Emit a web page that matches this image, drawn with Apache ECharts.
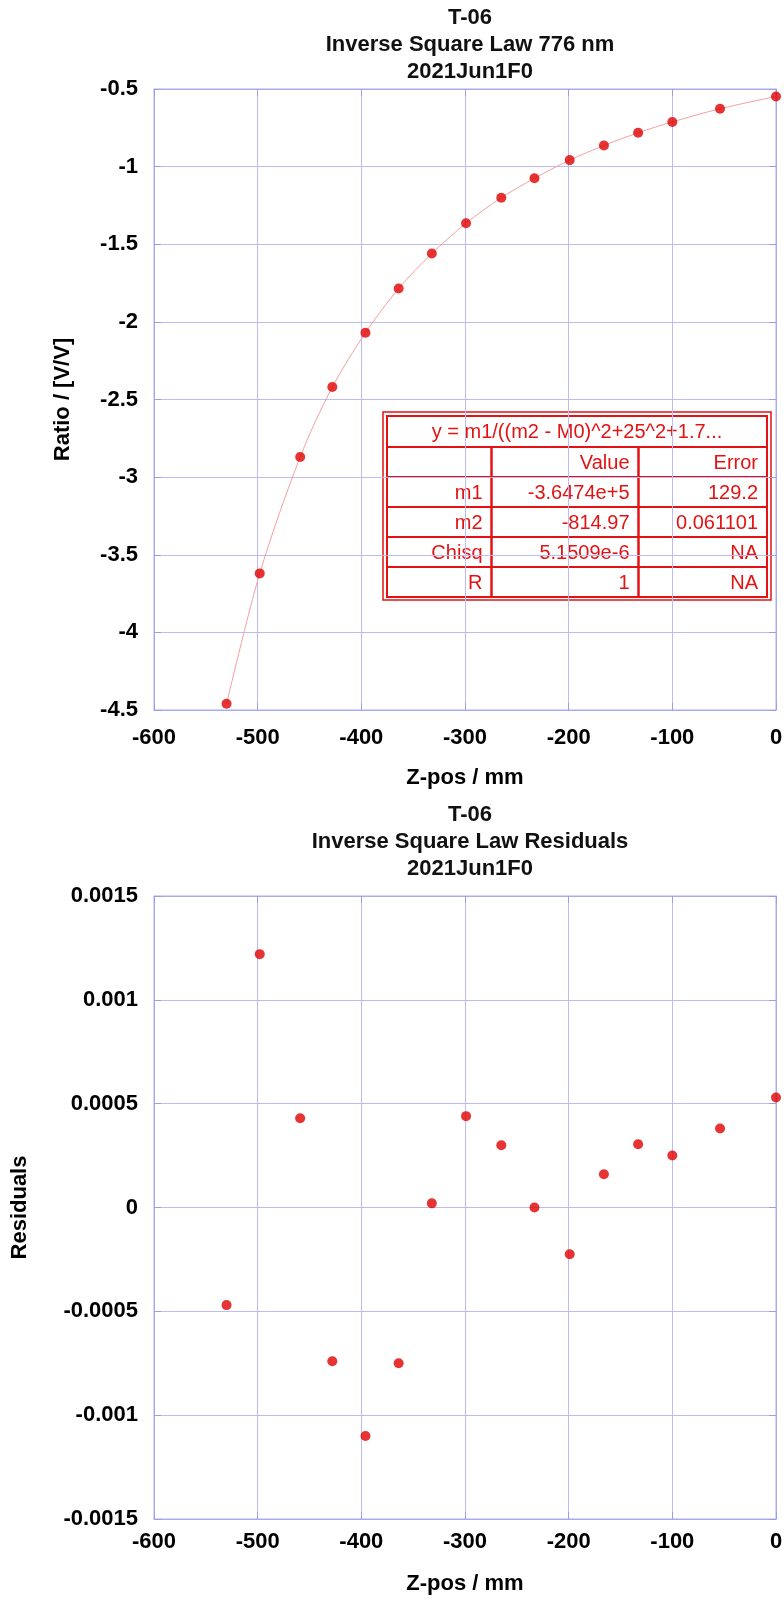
<!DOCTYPE html>
<html>
<head>
<meta charset="utf-8">
<title>T-06 Inverse Square Law</title>
<script src="https://cdn.jsdelivr.net/npm/echarts@6/dist/echarts.min.js"></script>
<style>
  html, body { margin: 0; padding: 0; background: #fff; }
  #isl-chart { width: 784px; height: 1604px; }
</style>
</head>
<body>
<div id="isl-chart"></div>
<script>
const zPos = [-530, -498, -459, -428, -396, -364, -332, -299, -265, -233, -199, -166, -133, -100, -54, 0];
const ratio = [-4.46, -3.62, -2.87, -2.42, -2.07, -1.785, -1.56, -1.365, -1.2, -1.075, -0.958, -0.864, -0.782, -0.712, -0.627, -0.548];
const residuals = [-0.00047, 0.00122, 0.00043, -0.00074, -0.0011, -0.00075, 0.00002, 0.00044, 0.0003, 0.0, -0.000225, 0.00016, 0.000305, 0.00025, 0.00038, 0.00053];

// axis ranges: min, max, interval
const zRange = [-600, 0, 100];
const ratioRange = [-4.5, -0.5, 0.5];
const residualRange = [-0.0015, 0.0015, 0.0005];

// fit results table
const fitFormula = 'y = m1/((m2 - M0)^2+25^2+1.7...';
const fitRows = [
  ['', 'Value', 'Error'],
  ['m1', '-3.6474e+5', '129.2'],
  ['m2', '-814.97', '0.061101'],
  ['Chisq', '5.1509e-6', 'NA'],
  ['R', '1', 'NA']
];

const FONT = '"Liberation Sans", Arial, sans-serif';
const GRID_COLOR = '#bcbcf2';
const BORDER_COLOR = '#aaaaee';
const TICK_COLOR = '#9c9ce8';
const RED = '#e00000';
const TABLE_RED = '#e31313';

const chartDom = document.getElementById('isl-chart');
const myChart = echarts.init(chartDom);

const labelStyle = {
  color: '#000',
  fontFamily: FONT,
  fontWeight: 'bold',
  fontSize: 22
};

function makeAxis(gridIndex, range, name, nameGap, margin) {
  return {
    type: 'value',
    gridIndex: gridIndex,
    min: range[0],
    max: range[1],
    interval: range[2],
    name: name,
    nameLocation: 'middle',
    nameGap: nameGap,
    nameTextStyle: labelStyle,
    axisLine: { show: true, onZero: false, lineStyle: { color: BORDER_COLOR, width: 1 } },
    axisTick: { show: true, inside: true, length: 7, lineStyle: { color: TICK_COLOR } },
    axisLabel: Object.assign({ margin: margin }, labelStyle),
    splitLine: { show: true, lineStyle: { color: GRID_COLOR, width: 1 } }
  };
}

// ticks only, on the opposite side of the frame
function mirrorAxis(gridIndex, range, position) {
  return {
    type: 'value',
    gridIndex: gridIndex,
    position: position,
    min: range[0],
    max: range[1],
    interval: range[2],
    axisLine: { show: true, onZero: false, lineStyle: { color: BORDER_COLOR, width: 1 } },
    axisTick: { show: true, inside: true, length: 7, lineStyle: { color: TICK_COLOR } },
    axisLabel: { show: false },
    splitLine: { show: false }
  };
}

// fit table, drawn as graphic elements
function buildTable() {
  const left = 387, right = 767, top = 416;
  const titleH = 31;
  const rowH = 30;
  const cols = [387, 491.5, 638.5, 767];
  const bottom = top + titleH + rowH * fitRows.length;
  const els = [];
  els.push({
    type: 'rect',
    shape: { x: 383, y: 412, width: right - left + 8, height: bottom - top + 7 },
    style: { fill: '#fff', stroke: TABLE_RED, lineWidth: 1.5 }
  });
  els.push({
    type: 'rect',
    shape: { x: left, y: top, width: right - left, height: bottom - top },
    style: { fill: 'none', stroke: TABLE_RED, lineWidth: 2 }
  });
  els.push({
    type: 'text',
    style: {
      x: (left + right) / 2, y: top + titleH / 2 + 1,
      text: fitFormula, align: 'center', verticalAlign: 'middle',
      fill: TABLE_RED, font: '20px ' + FONT
    }
  });
  for (let r = 0; r < fitRows.length; r++) {
    const y0 = top + titleH + rowH * r;
    els.push({
      type: 'line',
      shape: { x1: left, y1: y0, x2: right, y2: y0 },
      style: { stroke: TABLE_RED, lineWidth: 2 }
    });
    for (let c = 0; c < 3; c++) {
      els.push({
        type: 'text',
        style: {
          x: cols[c + 1] - 9, y: y0 + rowH / 2 + 1,
          text: fitRows[r][c], align: 'right', verticalAlign: 'middle',
          fill: TABLE_RED, font: '20px ' + FONT
        }
      });
    }
  }
  [cols[1], cols[2]].forEach(x => {
    els.push({
      type: 'line',
      shape: { x1: x, y1: top + titleH, x2: x, y2: bottom },
      style: { stroke: TABLE_RED, lineWidth: 2.5 }
    });
  });
  return els;
}

const titleStyle = {
  color: '#111',
  fontFamily: FONT,
  fontWeight: 'bold',
  fontSize: 22,
  lineHeight: 27
};

let option = {
  animation: false,
  backgroundColor: '#fff',
  title: [
    {
      text: 'T-06\nInverse Square Law 776 nm\n2021Jun1F0',
      left: 465, top: -1, textAlign: 'center',
      textStyle: titleStyle
    },
    {
      text: 'T-06\nInverse Square Law Residuals\n2021Jun1F0',
      left: 465, top: 796, textAlign: 'center',
      textStyle: titleStyle
    }
  ],
  grid: [
    { left: 154, width: 622, top: 89, height: 621, show: true, borderColor: BORDER_COLOR, borderWidth: 1, outerBoundsMode: 'none' },
    { left: 154, width: 622, top: 896, height: 623, show: true, borderColor: BORDER_COLOR, borderWidth: 1, outerBoundsMode: 'none' }
  ],
  xAxis: [
    makeAxis(0, zRange, 'Z-pos / mm', 57, 17),
    makeAxis(1, zRange, 'Z-pos / mm', 54, 12),
    mirrorAxis(0, zRange, 'top'),
    mirrorAxis(1, zRange, 'top')
  ],
  yAxis: [
    makeAxis(0, ratioRange, 'Ratio / [V/V]', 80, 16),
    makeAxis(1, residualRange, 'Residuals', 123, 16),
    mirrorAxis(0, ratioRange, 'right'),
    mirrorAxis(1, residualRange, 'right')
  ],
  series: [
    {
      name: 'fit',
      type: 'line',
      xAxisIndex: 0,
      yAxisIndex: 0,
      data: zPos.map((z, i) => [z, ratio[i]]),
      smooth: 0.3,
      showSymbol: false,
      lineStyle: { color: '#f4a0a0', width: 1 },
      z: 2
    },
    {
      name: 'ratio',
      type: 'scatter',
      xAxisIndex: 0,
      yAxisIndex: 0,
      data: zPos.map((z, i) => [z, ratio[i]]),
      symbolSize: 10,
      itemStyle: { color: RED },
      z: 3
    },
    {
      name: 'residuals',
      type: 'scatter',
      xAxisIndex: 1,
      yAxisIndex: 1,
      data: zPos.map((z, i) => [z, residuals[i]]),
      symbolSize: 10,
      itemStyle: { color: RED },
      z: 3
    }
  ],
  graphic: [
    { type: 'group', z: 100, children: buildTable() }
  ]
};
option && myChart.setOption(option);
</script>
</body>
</html>
